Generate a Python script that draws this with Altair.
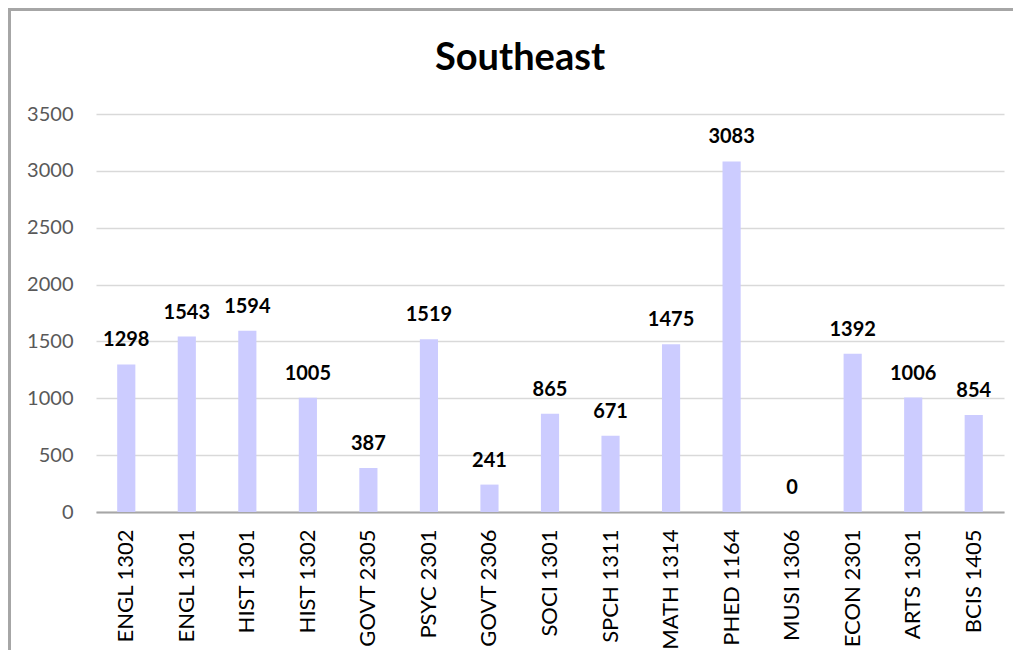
import altair as alt
import pandas as pd

courses = ["ENGL 1302", "ENGL 1301", "HIST 1301", "HIST 1302", "GOVT 2305",
           "PSYC 2301", "GOVT 2306", "SOCI 1301", "SPCH 1311", "MATH 1314",
           "PHED 1164", "MUSI 1306", "ECON 2301", "ARTS 1301", "BCIS 1405"]
values = [1298, 1543, 1594, 1005, 387, 1519, 241, 865, 671, 1475, 3083, 0, 1392, 1006, 854]
y_ticks = [0, 500, 1000, 1500, 2000, 2500, 3000, 3500]

df = pd.DataFrame({"course": courses, "value": values})

W, H = 908, 398
FONT = "Lato"

x_enc = alt.X("course:N", sort=courses, title=None,
              scale=alt.Scale(paddingInner=0.7, paddingOuter=0.35),
              axis=alt.Axis(labelAngle=-90, labelFontSize=22, labelColor="#000000",
                            labelPadding=17, ticks=False, grid=False,
                            domainColor="#a6a6a6", domainWidth=2, labelFont=FONT))
y_enc = alt.Y("value:Q", title=None,
              scale=alt.Scale(domain=[0, 3500], nice=False),
              axis=alt.Axis(values=y_ticks, format="d", labelFontSize=20,
                            labelColor="#595959", labelPadding=23, ticks=False,
                            domain=False, gridColor="#d9d9d9", gridWidth=1.5,
                            labelFont=FONT))

base = alt.Chart(df)
bars = base.mark_bar(color="#ccccff").encode(x=x_enc, y=y_enc)
labels = base.mark_text(fontWeight="bold", fontSize=20, color="#000000", font=FONT,
                        baseline="alphabetic", dy=-18).encode(
    x=alt.X("course:N", sort=courses), y="value:Q", text="value:Q")

frame_df = pd.DataFrame({"k": [0]})
top_line = alt.Chart(frame_df).mark_rule(color="#a6a6a6", strokeWidth=3).encode(
    x=alt.value(-88), x2=alt.value(W + 9), y=alt.value(-104.5))
left_line = alt.Chart(frame_df).mark_rule(color="#a6a6a6", strokeWidth=3).encode(
    x=alt.value(-86.5), y=alt.value(-104.5), y2=alt.value(H + 140))

chart = alt.layer(bars, labels, top_line, left_line).properties(
    width=W, height=H,
    title=alt.TitleParams("Southeast", fontSize=38, fontWeight="bold", font=FONT,
                          color="#000000", anchor="middle", frame="group",
                          baseline="alphabetic", offset=-100, dx=-30),
    autosize=alt.AutoSizeParams(type="none"),
    padding={"left": 88, "top": 106, "right": 9, "bottom": 138},
).configure_view(strokeWidth=0, strokeOpacity=0)

chart.save("out.html", embed_options={"renderer": "svg", "actions": False})
